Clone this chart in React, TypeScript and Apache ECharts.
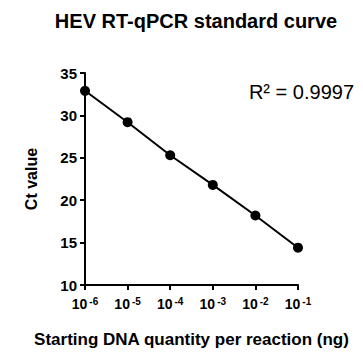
import React, { useEffect, useRef } from "react";
import * as echarts from "echarts";

const quantities = [1e-6, 1e-5, 1e-4, 1e-3, 1e-2, 1e-1];
const ctValues = [32.9, 29.2, 25.3, 21.8, 18.2, 14.4];
const titleText = "HEV RT-qPCR standard curve";
const r2Text = "R² = 0.9997";
const xName = "Starting DNA quantity per reaction (ng)";
const yName = "Ct value";

const FONT = "Liberation Sans, Arial, sans-serif";

export default function App() {
  const ref = useRef<HTMLDivElement>(null);
  useEffect(() => {
    const chart = echarts.init(ref.current!, null, { renderer: "svg" });
    chart.setOption({
      animation: false,
      backgroundColor: "#fff",
      textStyle: { fontFamily: FONT },
      title: {
        text: titleText,
        left: 191,
        textAlign: "center",
        top: 6,
        textStyle: { fontFamily: FONT, fontSize: 20, fontWeight: "bold", color: "#000" },
      },
      graphic: [
        {
          type: "text",
          right: 9,
          top: 82,
          style: { text: r2Text, fontFamily: FONT, fontSize: 20, fill: "#000" },
        },
      ],
      grid: { left: 85, top: 73, right: 65, bottom: 73 },
      xAxis: {
        type: "log",
        logBase: 10,
        min: 1e-6,
        max: 1e-1,
        name: xName,
        nameLocation: "middle",
        nameGap: 46,
        nameTextStyle: { fontFamily: FONT, fontSize: 17, fontWeight: "bold", color: "#000" },
        axisLine: { lineStyle: { color: "#000", width: 2 } },
        axisTick: { show: true, length: 5, lineStyle: { color: "#000", width: 2 } },
        splitLine: { show: false },
        minorTick: { show: false },
        axisLabel: {
          margin: 11,
          color: "#000",
          formatter: (v: number) => `{b|10}{s|${Math.round(Math.log10(v))}}`,
          rich: {
            b: { fontFamily: FONT, fontSize: 14, fontWeight: "bold", color: "#000", lineHeight: 16 },
            s: { fontFamily: FONT, fontSize: 10, fontWeight: "bold", color: "#000", verticalAlign: "top", lineHeight: 16, padding: [0, 0, 5, 2] },
          },
        },
      },
      yAxis: {
        type: "value",
        min: 10,
        max: 35,
        interval: 5,
        name: yName,
        nameLocation: "middle",
        nameGap: 46,
        nameTextStyle: { fontFamily: FONT, fontSize: 16, fontWeight: "bold", color: "#000" },
        axisLine: { show: true, lineStyle: { color: "#000", width: 2 } },
        axisTick: { show: true, length: 5, lineStyle: { color: "#000", width: 2 } },
        splitLine: { show: false },
        axisLabel: { fontFamily: FONT, fontSize: 15, fontWeight: "bold", color: "#000", margin: 8 },
      },
      series: [
        {
          type: "line",
          data: quantities.map((q, i) => [q, ctValues[i]]),
          symbol: "circle",
          symbolSize: 10,
          itemStyle: { color: "#000" },
          lineStyle: { color: "#000", width: 2 },
        },
      ],
    });
    return () => chart.dispose();
  }, []);
  return <div ref={ref} style={{ width: 363, height: 358, margin: -8 }} />;
}
